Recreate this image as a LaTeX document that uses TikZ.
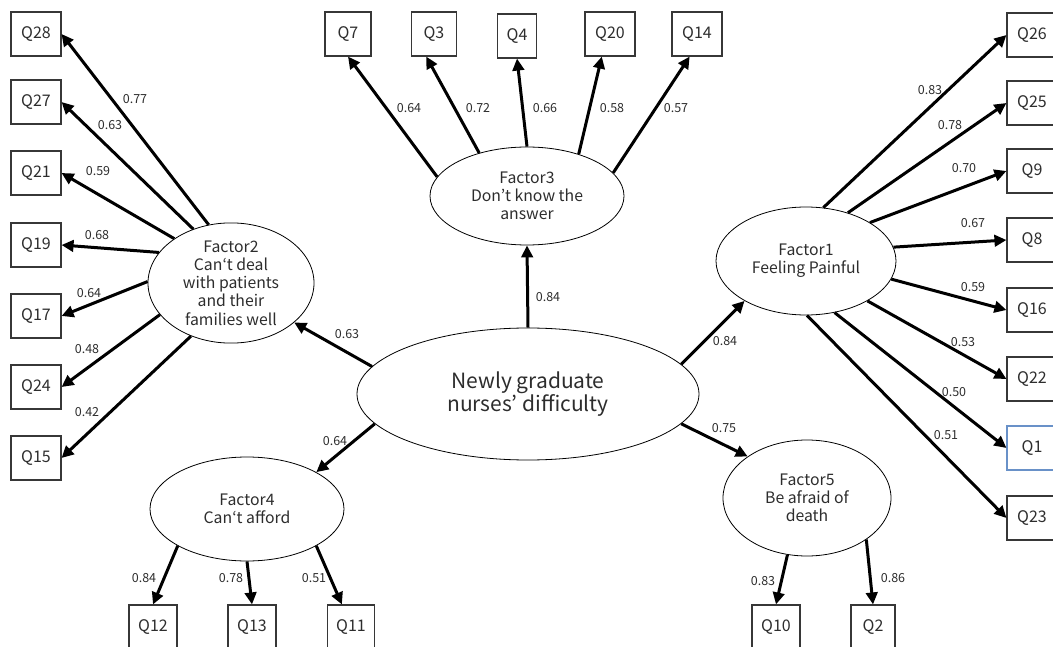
\documentclass[tikz,border=0pt]{standalone}
\usepackage{fontspec}
\setmainfont{Noto Sans CJK JP}
\usepackage{tikz}
\usetikzlibrary{arrows.meta,shapes.geometric}
\definecolor{semtext}{RGB}{45,45,45}
\definecolor{semframe}{RGB}{55,55,55}
\definecolor{semblue}{RGB}{105,145,200}

\begin{document}
\begin{tikzpicture}[x=1pt,y=-1pt,>={Triangle[length=12pt,width=11.5pt]},
    item/.style={draw=semframe,line width=1.1pt,minimum width=50pt,minimum height=44pt,inner sep=0pt,font=\fontsize{16}{18}\selectfont,text=semtext},
    factor/.style={draw,ellipse,line width=.8pt,inner sep=0pt,align=center,font=\fontsize{15.8}{18.3}\selectfont,text=semtext},
    load/.style={->,line width=3pt},
    lbl/.style={font=\fontsize{12.5}{14}\selectfont,text=semtext,inner sep=0pt}]
  \useasboundingbox (0,0) rectangle (1053,647);
  % latent variables
  \node[factor,minimum width=342pt,minimum height=132pt,font=\fontsize{21}{23.5}\selectfont] (diff) at (528,394) {Newly graduate\\nurses’ difficulty};
  \node[factor,minimum width=180pt,minimum height=108pt] (f1) at (806,261) {Factor1\\Feeling Painful};
  \node[factor,minimum width=166pt,minimum height=120pt] (f2) at (231,283) {Factor2\\Can‘t deal\\with patients\\and their\\families well};
  \node[factor,minimum width=194pt,minimum height=98pt] (f3) at (527,196) {Factor3\\Don’t know the\\answer};
  \node[factor,minimum width=194pt,minimum height=104pt] (f4) at (247,509) {Factor4\\Can‘t afford};
  \node[factor,minimum width=168pt,minimum height=116pt] (f5) at (807,498) {Factor5\\Be afraid of\\death};
  % observed items
  \foreach \q/\y in {28/34,27/102,21/173,19/245,17/316,24/387,15/458}
    \node[item] (q\q) at (36,\y) {Q\q};
  \foreach \q/\y in {26/35,25/103,9/171,8/240,16/310,22/379,23/518}
    \node[item] (q\q) at (1032,\y) {Q\q};
  \node[item,draw=semblue] (q1) at (1032,448) {Q1};
  \foreach \q/\x/\y/\w in {7/348/34/46,3/434/34/45,4/517/36/39,20/610/34/50,14/697/34/50}
    \node[item,minimum width=\w pt] (q\q) at (\x,\y) {Q\q};
  \foreach \q/\x/\w in {12/153/48,13/252/48,11/351/47,10/776/48,2/873/44}
    \node[item,minimum width=\w pt] (q\q) at (\x,627) {Q\q};
  % second order paths
  \draw[load] (diff.170.5) -- (f2.328.6) node[lbl] at (347,334) {0.63};
  \draw[load] (diff.191.9) -- (f4.28.5) node[lbl] at (335,441) {0.64};
  \draw[load] (diff.90) -- (f3.270) node[lbl] at (548,297) {0.84};
  \draw[load] (diff.11.7) -- (f1.213.3) node[lbl] at (725,341) {0.84};
  \draw[load] (diff.-11.9) -- (f5.145.7) node[lbl] at (724,428) {0.75};
  % loadings
  \foreach \q/\a/\v/\lx/\ly in {28/111/0.77/135/99,27/125/0.63/110/125,21/142/0.59/98/171,19/157/0.68/97/235,17/179/0.64/89/293,24/204/0.48/87/349,15/233/0.42/87/412}
    \draw[load] (f2.\a) -- (q\q.east) node[lbl] at (\lx,\ly) {\v};
  \foreach \q/\a/\v/\lx/\ly in {26/72.5/0.83/930/90,25/49.5/0.78/950/125,9/31/0.70/964/168,8/9/0.67/973/223,16/-12/0.59/973/287,22/-33/0.53/963/342,1/-61/0.50/954/392,23/-89/0.51/946/435}
    \draw[load] (f1.\a) -- (q\q.west) node[lbl] at (\lx,\ly) {\v};
  \foreach \q/\a/\b/\v/\lx in {7/168/-90/0.64/409,3/138/-109/0.72/478,4/90/-90/0.66/545,20/39.5/-110/0.58/612,14/15/-108/0.57/676}
    \draw[load] (f3.\a) -- (q\q.\b) node[lbl] at (\lx,108) {\v};
  \foreach \q/\a/\b/\v/\lx in {12/208.5/90/0.84/144,13/270/90/0.78/231,11/-28.5/112/0.51/314}
    \draw[load] (f4.\a) -- (q\q.\b) node[lbl] at (\lx,578) {\v};
  \draw[load] (f5.251) -- (q10.north) node[lbl] at (763,581) {0.83};
  \draw[load] (f5.-35) -- (q2.north) node[lbl] at (893,578) {0.86};
\end{tikzpicture}
\end{document}
